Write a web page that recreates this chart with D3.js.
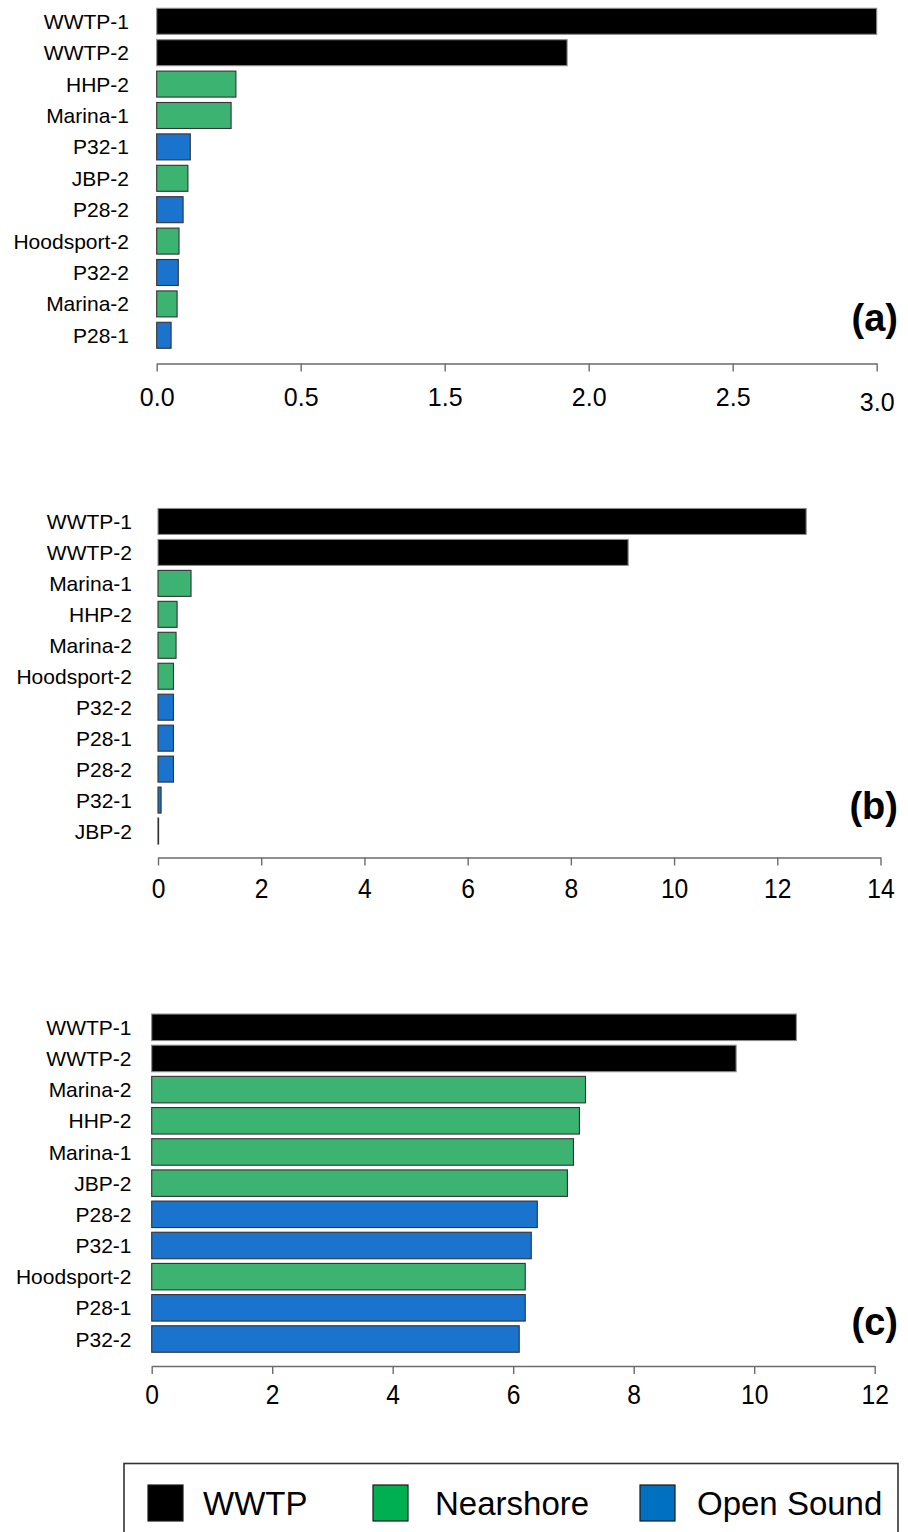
<!DOCTYPE html>
<html>
<head>
<meta charset="utf-8">
<script src="https://cdn.jsdelivr.net/npm/d3@7/dist/d3.min.js"></script>
<style>
  html, body { margin: 0; padding: 0; background: #fff; }
  svg { display: block; }
  text { font-family: "Liberation Sans", Arial, Helvetica, sans-serif; fill: #000; }
</style>
</head>
<body>
<svg id="chart" width="908" height="1532"></svg>
<script>
// ---- data ----
const sitesA = ["WWTP-1", "WWTP-2", "HHP-2", "Marina-1", "P32-1", "JBP-2", "P28-2", "Hoodsport-2", "P32-2", "Marina-2", "P28-1"];
const valuesA = [3.0, 1.71, 0.33, 0.31, 0.14, 0.13, 0.11, 0.093, 0.09, 0.085, 0.06];
const tickLabelsA = ["0.0", "0.5", "1.5", "2.0", "2.5", "3.0"];

const sitesB = ["WWTP-1", "WWTP-2", "Marina-1", "HHP-2", "Marina-2", "Hoodsport-2", "P32-2", "P28-1", "P28-2", "P32-1", "JBP-2"];
const valuesB = [12.56, 9.11, 0.64, 0.37, 0.35, 0.30, 0.30, 0.30, 0.30, 0.06, 0.01];
const tickLabelsB = ["0", "2", "4", "6", "8", "10", "12", "14"];

const sitesC = ["WWTP-1", "WWTP-2", "Marina-2", "HHP-2", "Marina-1", "JBP-2", "P28-2", "P32-1", "Hoodsport-2", "P28-1", "P32-2"];
const valuesC = [10.7, 9.7, 7.2, 7.1, 7.0, 6.9, 6.4, 6.3, 6.2, 6.2, 6.1];
const tickLabelsC = ["0", "2", "4", "6", "8", "10", "12"];

const groupNames = ["WWTP", "Nearshore", "Open Sound"];
const barColors = ["#000000", "#3cb371", "#1a73cc"];
const legendColors = ["#000000", "#00b050", "#0070c0"];

function groupOf(site) {
  if (site.startsWith("WWTP")) return "WWTP";
  if (site.startsWith("P28") || site.startsWith("P32")) return "Open Sound";
  return "Nearshore";
}
const colorBar = d3.scaleOrdinal().domain(groupNames).range(barColors);

const svg = d3.select("#chart");

// one horizontal bar panel
function panel(cfg) {
  const g = svg.append("g");
  const rows = cfg.sites.map((s, i) => ({ site: s, value: cfg.values[i] }));

  const x = d3.scaleLinear().domain([0, cfg.max]).range(cfg.xRange);
  const y = d3.scaleBand().domain(cfg.sites).range(cfg.yRange)
    .paddingInner(cfg.pad).paddingOuter(cfg.pad / 2);

  g.selectAll("rect.bar").data(rows).enter().append("rect")
    .attr("class", "bar")
    .attr("x", x(0))
    .attr("y", d => y(d.site))
    .attr("width", d => Math.max(0.6, x(d.value) - x(0)))
    .attr("height", y.bandwidth())
    .attr("fill", d => colorBar(groupOf(d.site)))
    .attr("stroke", d => groupOf(d.site) === "WWTP" ? "#8c8c8c" : "#333")
    .attr("stroke-width", 1.1);

  // site labels
  g.selectAll("text.site").data(rows).enter().append("text")
    .attr("class", "site")
    .attr("x", cfg.labelX)
    .attr("y", d => y(d.site) + y.bandwidth() / 2)
    .attr("dy", "0.36em")
    .attr("text-anchor", "end")
    .style("font-size", "21px")
    .text(d => d.site);

  // x axis
  const n = cfg.tickLabels.length;
  const tickVals = d3.range(n).map(i => i * cfg.max / (n - 1));
  const axis = d3.axisBottom(x).tickValues(tickVals)
    .tickFormat((d, i) => cfg.tickLabels[i])
    .tickSize(8).tickSizeOuter(0).tickPadding(cfg.tickPad);
  const ax = g.append("g").attr("transform", `translate(0,${cfg.axisY})`).call(axis);
  ax.select(".domain").attr("stroke", "#6b6b6b").attr("stroke-width", 1.4);
  ax.selectAll(".tick line").attr("stroke", "#6b6b6b").attr("stroke-width", 1.4);
  ax.selectAll(".tick text")
    .style("font-family", '"Liberation Sans", Arial, sans-serif')
    .style("font-size", cfg.tickFont + "px")
    .attr("fill", "#000")
    .attr("transform", `scale(${cfg.tickScaleX},1)`)
    .attr("dy", "0.71em")
    .attr("y", (d, i) => 8 + cfg.tickPad + (i === n - 1 ? cfg.lastTickDrop : 0));

  // panel tag
  g.append("text")
    .attr("x", 898)
    .attr("y", cfg.tagY)
    .attr("text-anchor", "end")
    .style("font-size", "38px")
    .style("font-weight", "bold")
    .text(cfg.tag);
}

panel({
  sites: sitesA, values: valuesA, tickLabels: tickLabelsA, max: 3,
  xRange: [156.7, 876.7], yRange: [5.6, 351], pad: 0.172,
  labelX: 129, axisY: 363.5, tickPad: 17, tickFont: 25, tickScaleX: 1,
  lastTickDrop: 5, tag: "(a)", tagY: 331
});

panel({
  sites: sitesB, values: valuesB, tickLabels: tickLabelsB, max: 14,
  xRange: [158, 880.5], yRange: [506, 846.5], pad: 0.16,
  labelX: 132, axisY: 857.5, tickPad: 13, tickFont: 28, tickScaleX: 0.88,
  lastTickDrop: 0, tag: "(b)", tagY: 819
});

panel({
  sites: sitesC, values: valuesC, tickLabels: tickLabelsC, max: 12,
  xRange: [151.7, 874.7], yRange: [1011.7, 1354.6], pad: 0.15,
  labelX: 131.5, axisY: 1366, tickPad: 10, tickFont: 28, tickScaleX: 0.88,
  lastTickDrop: 0, tag: "(c)", tagY: 1335
});

// legend
const lg = svg.append("g");
lg.append("rect")
  .attr("x", 124).attr("y", 1463.5).attr("width", 774).attr("height", 90)
  .attr("fill", "#fff").attr("stroke", "#333").attr("stroke-width", 1.6);
const legendBoxX = [148, 373, 640];
const legendTextX = [203, 435, 697];
groupNames.forEach((name, i) => {
  lg.append("rect")
    .attr("x", legendBoxX[i]).attr("y", 1485).attr("width", 35).attr("height", 36)
    .attr("fill", legendColors[i]).attr("stroke", "#1a1a1a").attr("stroke-width", 1.2);
  lg.append("text")
    .attr("x", legendTextX[i]).attr("y", 1515)
    .style("font-size", "33px")
    .text(name);
});
</script>
</body>
</html>
